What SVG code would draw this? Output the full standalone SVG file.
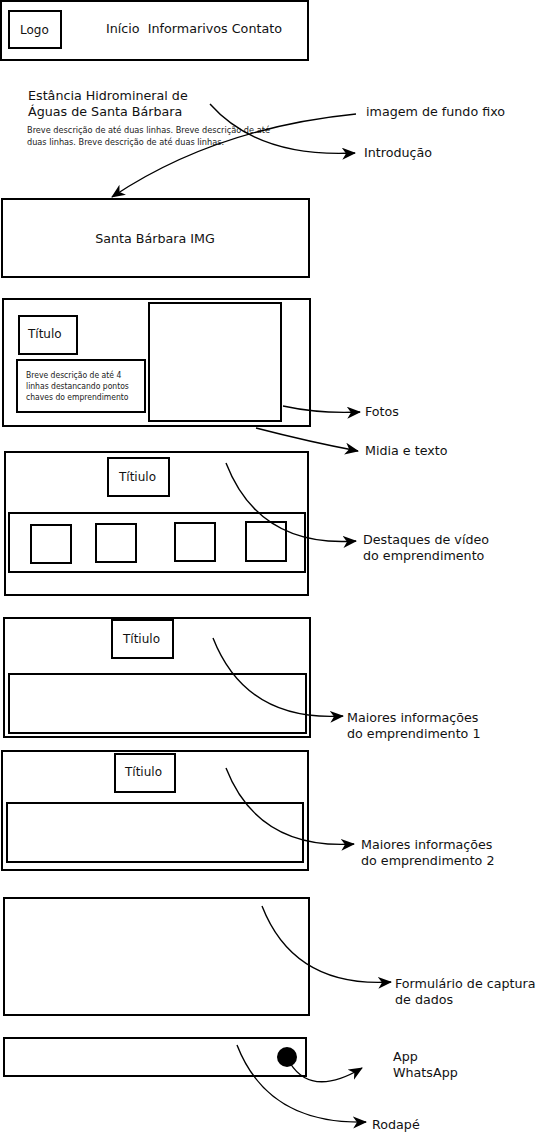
<svg xmlns="http://www.w3.org/2000/svg" width="537" height="1134" viewBox="0 0 537 1134">
<style>
.box{fill:none;stroke:#000;stroke-width:2}
.t{font-family:"DejaVu Sans",sans-serif;font-size:12.7px;fill:#111}
.n{font-family:"DejaVu Sans",sans-serif;font-size:12px;fill:#111}
.s{font-family:"DejaVu Sans Condensed","DejaVu Sans",sans-serif;font-size:8.5px;fill:#222}
.c{fill:none;stroke:#000;stroke-width:1.4;marker-end:url(#ah)}
</style>
<defs>
<marker id="ah" markerWidth="16" markerHeight="14" refX="13" refY="6" orient="auto" markerUnits="userSpaceOnUse">
<path d="M0,0 L14,6 L0,12 L4,6 z" fill="#000"/>
</marker>
</defs>
<rect width="537" height="1134" fill="#fff"/>

<g id="header">
<rect class="box" x="1" y="1" width="307" height="59"/>
<rect class="box" x="9" y="11" width="52" height="37"/>
<text class="n" x="20" y="34">Logo</text>
<text class="n" x="106" y="33" font-size="12.3" textLength="176" lengthAdjust="spacingAndGlyphs" xml:space="preserve">Início  Informarivos Contato</text>
</g>

<g id="intro">
<text class="t" x="28" y="100" font-size="13.8">Estância Hidromineral de</text>
<text class="t" x="28" y="116" font-size="13.8">Águas de Santa Bárbara</text>
<text class="s" x="27" y="133" textLength="243" lengthAdjust="spacingAndGlyphs">Breve descrição de até duas linhas. Breve descrição de até</text>
<text class="s" x="27" y="145" textLength="197" lengthAdjust="spacingAndGlyphs">duas linhas. Breve descrição de até duas linhas.</text>
</g>

<g id="label-imagem"><text class="t" x="366" y="116">imagem de fundo fixo</text></g>
<g id="label-intro"><text class="t" x="364" y="157">Introdução</text></g>

<g id="hero">
<rect class="box" x="2" y="199" width="307" height="78"/>
<text class="t" x="155" y="243" text-anchor="middle">Santa Bárbara IMG</text>
</g>

<g id="midia">
<rect class="box" x="3" y="299" width="307" height="127"/>
<rect class="box" x="19" y="316" width="58" height="38"/>
<text class="n" x="28" y="338" font-size="11">Título</text>
<rect class="box" x="17" y="360" width="128" height="52"/>
<text class="s" x="26" y="378">Breve descrição de até 4</text>
<text class="s" x="26" y="389">linhas destancando pontos</text>
<text class="s" x="26" y="400">chaves do emprendimento</text>
<rect class="box" x="149" y="303" width="132" height="118"/>
</g>
<g id="label-fotos"><text class="t" x="365" y="416">Fotos</text></g>
<g id="label-midia"><text class="t" x="365" y="455">Midia e texto</text></g>

<g id="videos">
<rect class="box" x="5" y="452" width="303" height="143"/>
<rect class="box" x="108" y="458" width="61" height="38"/>
<text class="n" x="119" y="481" font-size="12.3">Títiulo</text>
<rect class="box" x="9" y="513" width="296" height="59"/>
<rect class="box" x="31" y="525" width="40" height="38"/>
<rect class="box" x="96" y="524" width="40" height="38"/>
<rect class="box" x="175" y="523" width="40" height="38"/>
<rect class="box" x="246" y="522" width="40" height="39"/>
</g>
<g id="label-videos">
<text class="t" x="363" y="544">Destaques de vídeo</text>
<text class="t" x="363" y="560">do emprendimento</text>
</g>

<g id="info1">
<rect class="box" x="4" y="618" width="306" height="119"/>
<rect class="box" x="112" y="620" width="61" height="38"/>
<text class="n" x="123" y="643" font-size="12.3">Títiulo</text>
<rect class="box" x="9" y="674" width="297" height="59"/>
</g>
<g id="label-info1">
<text class="t" x="347" y="722">Maiores informações</text>
<text class="t" x="347" y="738">do emprendimento 1</text>
</g>

<g id="info2">
<rect class="box" x="2" y="751" width="306" height="119"/>
<rect class="box" x="115" y="754" width="60" height="38"/>
<text class="n" x="125" y="776" font-size="12.3">Títiulo</text>
<rect class="box" x="7" y="803" width="296" height="59"/>
</g>
<g id="label-info2">
<text class="t" x="361" y="849">Maiores informações</text>
<text class="t" x="361" y="865">do emprendimento 2</text>
</g>

<g id="form">
<rect class="box" x="4" y="898" width="305" height="117"/>
</g>
<g id="label-form">
<text class="t" x="395" y="988">Formulário de captura</text>
<text class="t" x="395" y="1004">de dados</text>
</g>

<g id="footer">
<rect class="box" x="4" y="1038" width="302" height="38"/>
<circle cx="287" cy="1057" r="10" fill="#000"/>
</g>
<g id="label-app">
<text class="t" x="393" y="1061">App</text>
<text class="t" x="393" y="1077">WhatsApp</text>
</g>
<g id="label-rodape"><text class="t" x="372" y="1129">Rodapé</text></g>

<g id="connectors">
<path class="c" d="M210,104 Q258,158 355,153"/>
<path class="c" d="M356,114 Q215,128 112,197"/>
<path class="c" d="M283,406 Q320,414 360,412"/>
<path class="c" d="M256,428 Q310,442 358,451"/>
<path class="c" d="M226,463 Q259,548 356,541"/>
<path class="c" d="M213,638 Q246,722 343,716"/>
<path class="c" d="M226,768 Q258,850 354,844"/>
<path class="c" d="M262,906 Q294,988 391,982"/>
<path class="c" d="M290,1063 Q312,1098 362,1068"/>
<path class="c" d="M237,1045 Q268,1125 366,1122"/>
</g>
</svg>
